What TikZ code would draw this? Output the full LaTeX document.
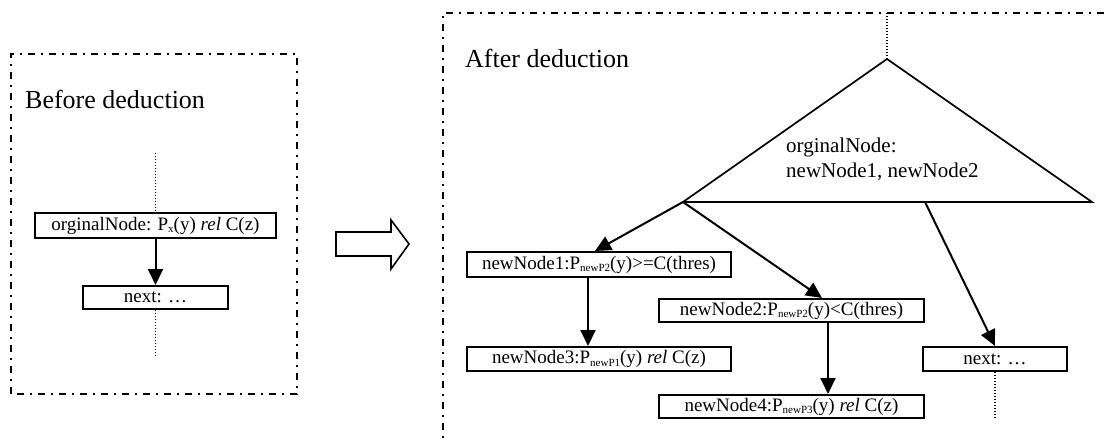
\documentclass[tikz,border=0pt]{standalone}
\usepackage{fontspec}
\setmainfont{Liberation Serif}
\usetikzlibrary{arrows.meta}

\newcommand{\lowsub}[1]{\raisebox{-2.5pt}{\fontsize{11}{11}\selectfont #1}}

\begin{document}
\begin{tikzpicture}[x=1pt, y=-1pt, node distance=72pt,
  box/.style={draw, rectangle, line width=2pt, inner sep=0pt, minimum height=24pt, font=\fontsize{19}{22}\selectfont},
  frame/.style={line width=2.2pt, dash pattern=on 7pt off 6pt on 2pt off 6pt},
  flow/.style={-{Triangle[length=16pt,width=15pt]}, line width=2pt},
  dots/.style={line width=1.6pt, dash pattern=on 1.4pt off 1.6pt},
  title/.style={anchor=base west, inner sep=0pt, font=\fontsize{26}{30}\selectfont}]
\useasboundingbox (0,0) rectangle (1110,440);

% before deduction
\draw[frame] (11,394) -- (11,54) -- (297,54) -- (297,394) -- cycle;
\node[title] (before) at (25,108) {Before deduction};

\node[box, minimum width=241pt, minimum height=25pt] (orig) at (155.5,225.5) {orginalNode: P\lowsub{x}(y) \textit{rel} C(z)};
\node[box, minimum width=145pt, minimum height=23pt, below of=orig] (next1) {next: …};
\coordinate (in1) at (155.5,153);
\coordinate (out1) at (155.5,358);

\draw[dots] (in1) -- (orig);
\draw[flow] (orig) -- (next1);
\draw[dots] (next1) -- (out1);

% block arrow
\draw[line width=1.6pt] (336,232) -- (391,232) -- (391,220) -- (409,244) -- (391,269) -- (391,256) -- (336,256) -- cycle;

% after deduction
\draw[frame] (1125,13) -- (443,13) -- (443,455);
\node[title] (after) at (465,67) {After deduction};

\coordinate (apex) at (887,59);
\coordinate (tl) at (683,202);
\coordinate (tr) at (1092,202);
\coordinate (split) at (925,202);
\coordinate (in2) at (887,13);
\draw[line width=1.7pt] (apex) -- (tr) -- (tl) -- cycle;
\draw[dots] (in2) -- (apex);
\node[anchor=base west, align=left, inner sep=0pt, font=\fontsize{21}{25}\selectfont] (tritext) at (786,177) {orginalNode:\\newNode1, newNode2};

\node[box, minimum width=264pt, minimum height=25pt] (nn1) at (599,264.5) {newNode1:P\lowsub{newP2}(y)>=C(thres)};
\node[box, minimum width=264pt, below of=nn1, node distance=94.5pt] (nn3) {newNode3:P\lowsub{newP1}(y) \textit{rel} C(z)};
\node[box, minimum width=265pt, minimum height=23pt] (nn2) at (791.5,310.5) {newNode2:P\lowsub{newP2}(y)<C(thres)};
\node[box, minimum width=265pt, minimum height=23pt, below of=nn2, node distance=96pt] (nn4) {newNode4:P\lowsub{newP3}(y) \textit{rel} C(z)};
\node[box, minimum width=144pt, right of=nn3, node distance=396pt] (next2) {next: …};
\coordinate (out2) at (995,418);

\draw[flow] (tl) -- ([xshift=-4pt]nn1.north);
\draw[flow] (tl) -- ([xshift=30.5pt]nn2.north);
\draw[flow] (split) -- (next2.north);
\draw[flow] ([xshift=-11pt]nn1.south) -- ([xshift=-11pt]nn3.north);
\draw[flow] ([xshift=36.5pt]nn2.south) -- ([xshift=36.5pt]nn4.north);
\draw[dots] (next2) -- (out2);
\end{tikzpicture}
\end{document}
